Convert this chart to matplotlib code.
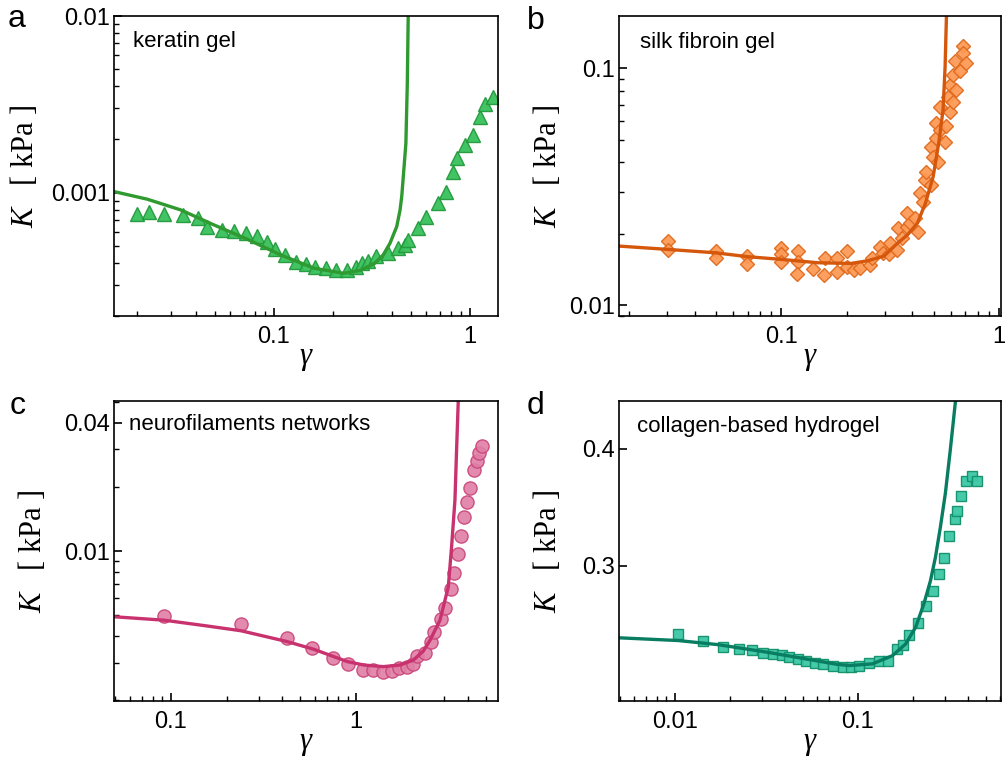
import matplotlib
matplotlib.use("Agg")
import matplotlib.pyplot as plt
from matplotlib import ticker

plt.rcParams['font.family'] = ['Liberation Sans', 'DejaVu Sans']
plt.rcParams['mathtext.fontset'] = 'custom'
plt.rcParams['mathtext.rm'] = 'Liberation Serif'
plt.rcParams['mathtext.it'] = 'Liberation Serif:italic'

# a: keratin gel
keratin_strain = [0.0201, 0.0230, 0.0275, 0.0343, 0.0411, 0.0457, 0.0545, 0.0628, 0.0720, 0.0816,
                  0.0918, 0.101, 0.114, 0.129, 0.146, 0.162, 0.184, 0.207, 0.235, 0.261,
                  0.280, 0.303, 0.331, 0.383, 0.431, 0.466, 0.484, 0.545, 0.597, 0.689,
                  0.754, 0.822, 0.862, 0.942, 1.04, 1.125, 1.19, 1.31]
keratin_K = [7.57e-4, 7.81e-4, 7.57e-4, 7.48e-4, 7.16e-4, 6.42e-4, 6.15e-4, 6.07e-4, 5.89e-4, 5.64e-4,
             5.28e-4, 4.78e-4, 4.44e-4, 4.07e-4, 3.95e-4, 3.81e-4, 3.73e-4, 3.65e-4, 3.62e-4, 3.81e-4,
             3.98e-4, 4.12e-4, 4.38e-4, 4.54e-4, 4.84e-4, 5.06e-4, 5.40e-4, 6.28e-4, 7.25e-4, 8.78e-4,
             1.01e-3, 1.315e-3, 1.565e-3, 1.86e-3, 2.12e-3, 2.69e-3, 3.18e-3, 3.49e-3]
keratin_fit_strain = [0.01527, 0.0226, 0.0334, 0.0494, 0.0731, 0.108, 0.160, 0.226, 0.275, 0.327,
                      0.361, 0.391, 0.405, 0.423, 0.440, 0.449, 0.457, 0.471, 0.479, 0.484, 0.487]
keratin_fit_K = [1.013e-3, 9.17e-4, 7.98e-4, 6.56e-4, 5.44e-4, 4.44e-4, 3.73e-4, 3.49e-4, 3.62e-4, 3.98e-4,
                 4.44e-4, 5.17e-4, 5.70e-4, 6.42e-4, 7.98e-4, 9.6e-4, 1.233e-3, 1.90e-3, 4.16e-3, 9.9e-3, 1.3e-2]

# b: silk fibroin gel
silk_strain = [0.0301, 0.0301, 0.0500, 0.0500, 0.0697, 0.0697, 0.0993, 0.0993, 0.0993, 0.119,
               0.119, 0.118, 0.140, 0.157, 0.159, 0.180, 0.180, 0.200, 0.201, 0.215,
               0.230, 0.256, 0.261, 0.284, 0.294, 0.313, 0.316, 0.339, 0.345, 0.357,
               0.376, 0.379, 0.390, 0.411, 0.425, 0.433, 0.448, 0.456, 0.464, 0.489,
               0.489, 0.498, 0.525, 0.515, 0.515, 0.534, 0.534, 0.562, 0.573, 0.583,
               0.593, 0.593, 0.614, 0.614, 0.625, 0.632, 0.659, 0.682, 0.682, 0.706]
silk_K = [0.0187, 0.01708, 0.01697, 0.01574, 0.01611, 0.01490, 0.01735, 0.01641, 0.01525, 0.01697,
          0.01525, 0.01352, 0.01416, 0.01339, 0.01574, 0.01574, 0.01383, 0.01697, 0.01452, 0.01406,
          0.01429, 0.01476, 0.01574, 0.01763, 0.01652, 0.01641, 0.01823, 0.01708, 0.02109, 0.01914,
          0.02440, 0.02143, 0.02213, 0.02323, 0.02042, 0.02965, 0.02735, 0.03376, 0.03660, 0.03214,
          0.04667, 0.04236, 0.04036, 0.05856, 0.05063, 0.05483, 0.06887, 0.04898, 0.05674, 0.07586,
          0.08505, 0.06554, 0.09375, 0.07228, 0.1067, 0.08100, 0.0975, 0.1243, 0.1156, 0.1050]
silk_fit_strain = [0.01803, 0.0304, 0.0496, 0.0704, 0.1, 0.147, 0.209, 0.249, 0.296, 0.341,
                   0.379, 0.421, 0.459, 0.498, 0.528, 0.553, 0.565, 0.573, 0.576]
silk_fit_K = [0.01775, 0.01718, 0.01664, 0.01601, 0.01560, 0.01510, 0.01500, 0.01539, 0.01611, 0.01823,
              0.01977, 0.02213, 0.02692, 0.03486, 0.04819, 0.06668, 0.1016, 0.1653, 0.2]

# c: neurofilaments networks
neuro_strain = [0.0925, 0.239, 0.423, 0.581, 0.748, 0.902, 1.096, 1.241, 1.394, 1.557,
                1.713, 1.877, 2.04, 2.14, 2.36, 2.53, 2.65, 2.86, 3.02, 3.24,
                3.38, 3.56, 3.69, 3.84, 3.99, 4.12, 4.33, 4.48, 4.63, 4.76]
neuro_K = [4.95e-3, 4.56e-3, 3.92e-3, 3.52e-3, 3.16e-3, 2.96e-3, 2.78e-3, 2.76e-3, 2.72e-3, 2.74e-3,
           2.82e-3, 2.86e-3, 2.96e-3, 3.21e-3, 3.33e-3, 3.76e-3, 4.19e-3, 4.80e-3, 5.42e-3, 6.61e-3,
           7.91e-3, 9.71e-3, 1.175e-2, 1.443e-2, 1.703e-2, 1.968e-2, 2.39e-2, 2.64e-2, 2.89e-2, 3.11e-2]
neuro_fit_strain = [0.0494, 0.0921, 0.158, 0.239, 0.426, 0.593, 0.898, 1.104, 1.404, 1.726,
                    2.04, 2.31, 2.51, 2.84, 3.15, 3.28, 3.42, 3.49, 3.56, 3.58]
neuro_fit_K = [4.92e-3, 4.74e-3, 4.45e-3, 4.23e-3, 3.76e-3, 3.46e-3, 3.03e-3, 2.92e-3, 2.87e-3, 2.92e-3,
               3.08e-3, 3.40e-3, 3.82e-3, 4.74e-3, 6.80e-3, 1.047e-2, 1.733e-2, 2.98e-2, 4.93e-2, 6.0e-2]

# d: collagen-based hydrogel
collagen_strain = [0.01047, 0.01430, 0.01837, 0.02234, 0.02636, 0.03055, 0.03428, 0.03837, 0.04227, 0.04690,
                   0.05200, 0.0587, 0.0646, 0.0731, 0.0830, 0.0920, 0.1021, 0.1156, 0.1300, 0.1456,
                   0.1648, 0.1771, 0.1905, 0.2143, 0.2366, 0.2570, 0.2773, 0.2951, 0.3170, 0.3389,
                   0.3475, 0.3681, 0.3899, 0.4207, 0.4477]
collagen_K = [0.2533, 0.2491, 0.2455, 0.2445, 0.2435, 0.2421, 0.2413, 0.2409, 0.2397, 0.2387,
              0.2375, 0.2363, 0.2353, 0.2344, 0.2336, 0.2336, 0.2346, 0.2361, 0.2373, 0.2375,
              0.2445, 0.2465, 0.2527, 0.2604, 0.2714, 0.2818, 0.2936, 0.3059, 0.3224, 0.3362,
              0.3431, 0.3562, 0.3695, 0.3742, 0.3693]
collagen_fit_strain = [0.004948, 0.01047, 0.01725, 0.0322, 0.0601, 0.0773, 0.0902, 0.1205, 0.1549, 0.1828,
                       0.2073, 0.2300, 0.2500, 0.2661, 0.2831, 0.3013, 0.3206, 0.3412, 0.35]
collagen_fit_K = [0.2512, 0.2495, 0.2470, 0.2424, 0.2373, 0.2353, 0.2346, 0.2356, 0.2404, 0.2474,
                  0.2578, 0.2731, 0.2892, 0.3064, 0.3299, 0.3583, 0.3987, 0.4472, 0.47]


def style_axes(ax, xlim, ylim, xticks, yticks, y_minor=True):
    ax.set_xscale('log')
    ax.set_yscale('log')
    ax.set_xlim(xlim)
    ax.set_ylim(ylim)
    subs = (2, 3, 4, 5, 6, 7, 8, 9)
    ax.xaxis.set_major_locator(ticker.FixedLocator(xticks))
    ax.xaxis.set_major_formatter(ticker.FormatStrFormatter('%g'))
    ax.xaxis.set_minor_locator(ticker.LogLocator(base=10, subs=subs, numticks=50))
    ax.xaxis.set_minor_formatter(ticker.NullFormatter())
    ax.yaxis.set_major_locator(ticker.FixedLocator(yticks))
    ax.yaxis.set_major_formatter(ticker.FormatStrFormatter('%g'))
    if y_minor:
        ax.yaxis.set_minor_locator(ticker.LogLocator(base=10, subs=subs, numticks=50))
    else:
        ax.yaxis.set_minor_locator(ticker.NullLocator())
    ax.yaxis.set_minor_formatter(ticker.NullFormatter())
    ax.tick_params(which='both', direction='in', top=False, right=False, labelsize=17)
    ax.tick_params(which='major', length=6, width=1.2)
    ax.tick_params(which='minor', length=3.5, width=1.0)
    ax.tick_params(axis='x', pad=7)
    ax.tick_params(axis='y', pad=3)
    for s in ax.spines.values():
        s.set_linewidth(1.2)
    ax.set_xlabel(r'$\gamma$', fontsize=22, va='center')
    ax.xaxis.set_label_coords(0.5, -0.14)


fig = plt.figure(figsize=(10.07, 7.62), dpi=100)
W, H = 1007.0, 762.0
ax_h = 300 / H

ax_a = fig.add_axes([114 / W, 1 - 316 / H, 384 / W, ax_h])
ax_b = fig.add_axes([619 / W, 1 - 316 / H, 382 / W, ax_h])
ax_c = fig.add_axes([114 / W, 1 - 701 / H, 384 / W, ax_h])
ax_d = fig.add_axes([619 / W, 1 - 701 / H, 382 / W, ax_h])

# a
ax_a.plot(keratin_strain, keratin_K, '^', ms=10, mfc='#38c05c', mec='#239a3c', mew=1.0, alpha=0.95)
ax_a.plot(keratin_fit_strain, keratin_fit_K, '-', color='#2f9a2f', lw=2.4)
style_axes(ax_a, (0.01527, 1.39), (2.0e-4, 1e-2), [0.1, 1], [0.001, 0.01])

# b
ax_b.plot(silk_strain, silk_K, 'D', ms=7.6, mfc='#fd9a55', mec='#e06a1e', mew=1.0, alpha=0.95)
ax_b.plot(silk_fit_strain, silk_fit_K, '-', color='#d4570c', lw=2.4)
style_axes(ax_b, (0.018, 1.02), (0.0090, 0.166), [0.1, 1], [0.01, 0.1])

# c
ax_c.plot(neuro_strain, neuro_K, 'o', ms=9.5, mfc='#e07ea6', mec='#c84478', mew=1.0, alpha=0.9)
ax_c.plot(neuro_fit_strain, neuro_fit_K, '-', color='#c8326e', lw=2.4)
style_axes(ax_c, (0.0494, 5.84), (0.00198, 0.0506), [0.1, 1], [0.01, 0.04])

# d
ax_d.plot(collagen_strain, collagen_K, 's', ms=7.5, mfc='#3cc8a6', mec='#12906c', mew=1.0, alpha=0.95)
ax_d.plot(collagen_fit_strain, collagen_fit_K, '-', color='#087d62', lw=2.4)
style_axes(ax_d, (0.00496, 0.607), (0.215, 0.45), [0.01, 0.1], [0.3, 0.4], y_minor=False)

ylabel = r'$K\quad[\ \mathrm{kPa}\ ]$'
for ax, xpos in [(ax_a, -0.232), (ax_b, -0.188), (ax_c, -0.211), (ax_d, -0.188)]:
    ax.set_ylabel(ylabel, fontsize=22, va='center')
    ax.yaxis.set_label_coords(xpos, 0.5)

ax_a.text(0.05, 0.898, 'keratin gel', transform=ax_a.transAxes, fontsize=16, va='baseline')
ax_b.text(0.056, 0.892, 'silk fibroin gel', transform=ax_b.transAxes, fontsize=16, va='baseline')
ax_c.text(0.04, 0.902, 'neurofilaments networks', transform=ax_c.transAxes, fontsize=16, va='baseline')
ax_d.text(0.046, 0.898, 'collagen-based hydrogel', transform=ax_d.transAxes, fontsize=16, va='baseline')

for letter, x, y in [('a', 17, 27), ('b', 536, 29), ('c', 18, 414), ('d', 536, 414)]:
    fig.text(x / W, 1 - y / H, letter, fontsize=23, ha='center', va='baseline')

fig.savefig('out.png', dpi=100)
